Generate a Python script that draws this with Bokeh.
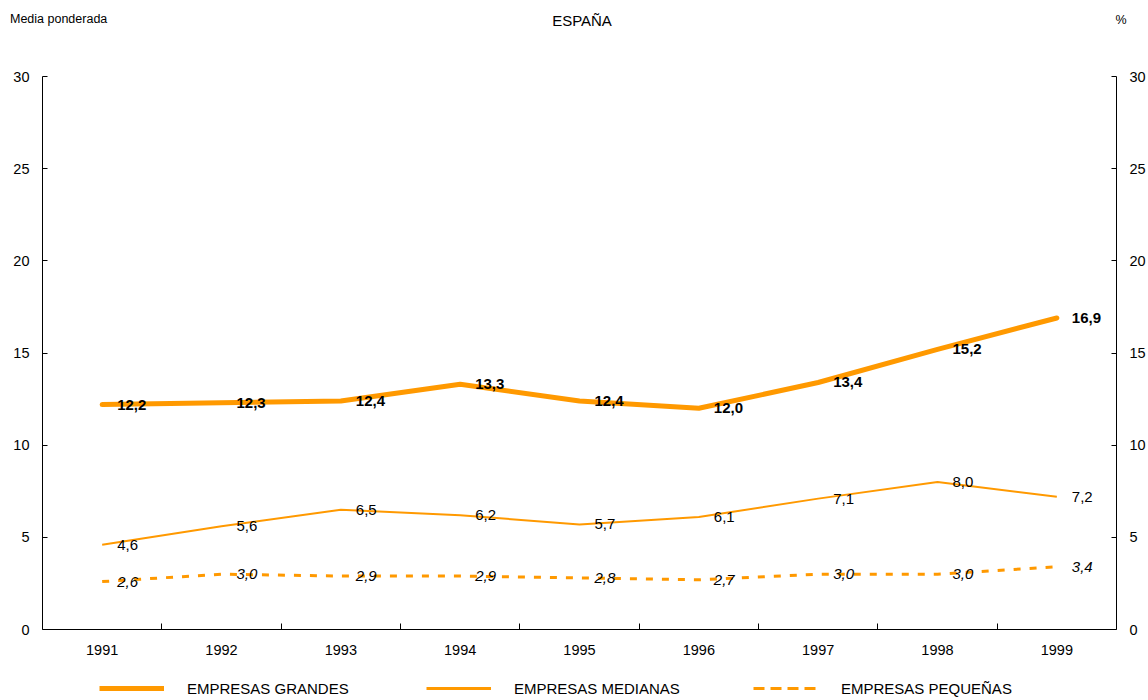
from bokeh.plotting import figure
from bokeh.models import (Range1d, LinearAxis, FixedTicker, Legend, LegendItem,
                          ColumnDataSource, Div)
from bokeh.layouts import column
from bokeh.core.properties import value
from bokeh.embed import file_html
from bokeh.resources import INLINE

years = [1991, 1992, 1993, 1994, 1995, 1996, 1997, 1998, 1999]
grandes = [12.2, 12.3, 12.4, 13.3, 12.4, 12.0, 13.4, 15.2, 16.9]
medianas = [4.6, 5.6, 6.5, 6.2, 5.7, 6.1, 7.1, 8.0, 7.2]
pequenas = [2.6, 3.0, 2.9, 2.9, 2.8, 2.7, 3.0, 3.0, 3.4]
series_names = ["EMPRESAS GRANDES", "EMPRESAS MEDIANAS", "EMPRESAS PEQUEÑAS"]
y_ticks = [0, 5, 10, 15, 20, 25, 30]
title_text = "ESPAÑA"
left_note = "Media ponderada"
right_note = "%"

ORANGE = "#FF9900"
FONT = "Liberation Sans"

def fmt(v):
    return f"{v:.1f}".replace(".", ",")

W = 1148
HEAD = 40
LEG_H = 28
H = 700 - HEAD - LEG_H

head = Div(width=W, height=HEAD, styles={"margin": "0", "padding": "0"}, text=(
    f'<div style="position:relative;width:{W}px;height:{HEAD}px;'
    f'font-family:\'{FONT}\';color:black;">'
    f'<span style="position:absolute;left:10px;top:11px;font-size:12.5px;line-height:16px;">{left_note}</span>'
    f'<span style="position:absolute;left:582px;top:12px;font-size:15px;line-height:18px;'
    f'transform:translateX(-50%);white-space:nowrap;">{title_text}</span>'
    f'<span style="position:absolute;left:1121px;top:12px;font-size:12.5px;line-height:16px;'
    f'transform:translateX(-50%);">{right_note}</span>'
    f'</div>'))

p = figure(width=W, height=H, output_backend="svg", toolbar_location=None,
           x_range=Range1d(years[0] - 0.5, years[-1] + 0.5),
           y_range=Range1d(0, 30),
           min_border_left=42, min_border_right=26,
           min_border_top=76 - HEAD, min_border_bottom=(700 - LEG_H) - 629)
p.outline_line_color = None
p.grid.visible = False
p.background_fill_color = "white"
p.border_fill_color = "white"

# x axis
xa = p.xaxis[0]
minor = [y + 0.5 for y in years[:-1]]
xa.ticker = FixedTicker(ticks=years, minor_ticks=minor)
xa.major_tick_in = 0
xa.major_tick_out = 0
xa.minor_tick_in = 6
xa.minor_tick_out = 0
xa.minor_tick_line_color = "black"
xa.axis_line_color = "black"
xa.major_label_standoff = 15
xa.major_label_text_font = FONT
xa.major_label_text_font_size = "14.5px"
xa.major_label_text_color = "black"

# y axes
ya = p.yaxis[0]
ya.ticker = FixedTicker(ticks=y_ticks)
ra = LinearAxis(ticker=FixedTicker(ticks=y_ticks))
p.add_layout(ra, "right")
for ax in (ya, ra):
    ax.major_tick_in = 5
    ax.major_tick_out = 0
    ax.minor_tick_line_color = None
    ax.axis_line_color = "black"
    ax.major_tick_line_color = "black"
    ax.major_label_standoff = 13
    ax.major_label_text_font = FONT
    ax.major_label_text_font_size = "14.5px"
    ax.major_label_text_color = "black"

src = ColumnDataSource(dict(
    x=years, g=grandes, m=medianas, s=pequenas,
    gl=[fmt(v) for v in grandes], ml=[fmt(v) for v in medianas],
    sl=[fmt(v) for v in pequenas]))

p.line("x", "g", source=src, line_color=ORANGE, line_width=5, line_cap="round")
p.line("x", "m", source=src, line_color=ORANGE, line_width=2)
p.line("x", "s", source=src, line_color=ORANGE, line_width=3, line_dash="7 9")

common = dict(source=src, x_offset=15, text_baseline="middle", text_align="left",
              text_font=value(FONT), text_font_size="15px", text_color="black")
p.text("x", "g", text="gl", text_font_style="bold", **common)
p.text("x", "m", text="ml", **common)
p.text("x", "s", text="sl", text_font_style="italic", **common)

# legend strip: separate figure (same series, plotted out of its view) so the
# legend below the axis is not clipped by the main frame
lf = figure(width=W, height=LEG_H, output_backend="svg", toolbar_location=None,
            x_axis_type=None, y_axis_type=None,
            x_range=Range1d(years[0] - 0.5, years[-1] + 0.5),
            y_range=Range1d(-2, -1),
            min_border_left=0, min_border_right=0, min_border_top=0, min_border_bottom=0)
lf.outline_line_color = None
lf.grid.visible = False
k1 = lf.line("x", "g", source=src, line_color=ORANGE, line_width=5)
k2 = lf.line("x", "m", source=src, line_color=ORANGE, line_width=3)
k3 = lf.line("x", "s", source=src, line_color=ORANGE, line_width=3, line_dash="11 6")

legend = Legend(items=[LegendItem(label=series_names[0], renderers=[k1]),
                       LegendItem(label=series_names[1], renderers=[k2]),
                       LegendItem(label=series_names[2], renderers=[k3])],
                orientation="horizontal", location=(57, 2),
                glyph_width=65, glyph_height=20, label_height=20, label_width=239,
                label_standoff=23, spacing=0, padding=0, margin=0,
                border_line_color=None, background_fill_alpha=0,
                label_text_font=FONT, label_text_font_size="15px",
                label_text_color="black")
lf.add_layout(legend, "center")

layout = column(head, p, lf, spacing=0)
open("out.html", "w").write(file_html(layout, INLINE))
